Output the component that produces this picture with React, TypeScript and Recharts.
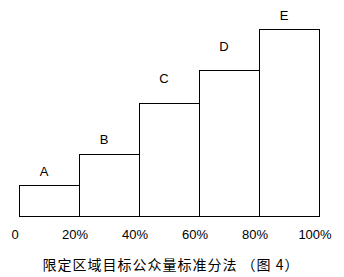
import { BarChart, Bar, XAxis, YAxis, LabelList } from "recharts";

// bar categories (each takes a 20% slice of the population)
const categories = ["A", "B", "C", "D", "E"];
// relative audience level
const levels = [31, 62, 113, 146, 187];
// percent marks at the bar edges
const edgeLabels = ["0", "20%", "40%", "60%", "80%", "100%"];
// vertical gap of each letter above its bar (px)
const labelGaps = [14, 15, 25, 24, 14];

const data = categories.map((name, i) => ({ name, level: levels[i] }));

const FONT = "'Liberation Sans', Arial, sans-serif";
const BAND = 60;

function EdgeTick(props: any) {
    const { x, y, index } = props;
    const left = x - BAND / 2;
    const common = {
        y: y + 10,
        textAnchor: "middle" as const,
        dominantBaseline: "central" as const,
        fontFamily: FONT,
        fontSize: 13,
        fill: "#000",
    };
    return (
        <g>
            <text x={left - 4} {...common}>
                {edgeLabels[index]}
            </text>
            {index === categories.length - 1 && (
                <text x={left + BAND - 4} {...common}>
                    {edgeLabels[index + 1]}
                </text>
            )}
        </g>
    );
}

function LetterLabel(props: any) {
    const { x, y, width, value } = props;
    const i = categories.indexOf(value);
    return (
        <text
            x={x + width / 2 - 5}
            y={y - labelGaps[i]}
            textAnchor="middle"
            dominantBaseline="central"
            fontFamily={FONT}
            fontSize={13}
            fill="#000"
        >
            {value}
        </text>
    );
}

export default function App() {
    return (
        <div
            style={{
                position: "fixed",
                left: 0,
                top: 0,
                width: 344,
                height: 277,
                background: "#fff",
            }}
        >
            <BarChart
                width={344}
                height={277}
                data={data}
                margin={{ top: 16, right: 25, left: 19, bottom: 41 }}
                barCategoryGap={0}
            >
                <XAxis
                    dataKey="name"
                    axisLine={false}
                    tickLine={false}
                    height={20}
                    tick={<EdgeTick />}
                    interval={0}
                />
                <YAxis hide domain={[0, 200]} />
                <Bar
                    dataKey="level"
                    fill="#fff"
                    stroke="#000"
                    strokeWidth={1}
                    shapeRendering="crispEdges"
                    isAnimationActive={false}
                >
                    <LabelList dataKey="name" content={<LetterLabel />} />
                </Bar>
            </BarChart>
            <div
                style={{
                    position: "absolute",
                    left: 0,
                    top: 255,
                    width: 342,
                    textAlign: "center",
                    fontFamily: "'Noto Sans CJK SC', sans-serif",
                    fontSize: 14,
                    letterSpacing: 1,
                    lineHeight: "18px",
                    whiteSpace: "pre",
                    color: "#000",
                }}
            >
                限定区域目标公众量标准分法 （图 4）
            </div>
        </div>
    );
}
